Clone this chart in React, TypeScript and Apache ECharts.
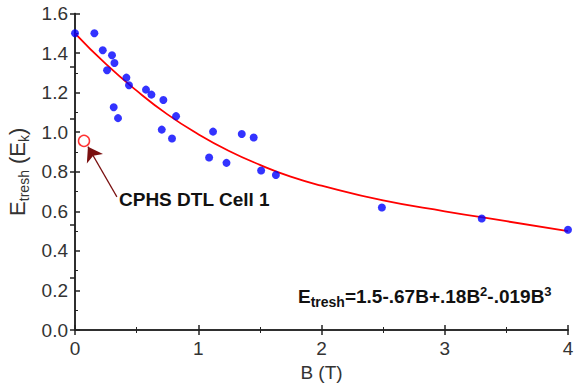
import React, { useEffect, useRef } from "react";
import * as echarts from "echarts";

// measured points (B in T, E in Ek)
const measuredB = [0, 0.157, 0.225, 0.30, 0.32, 0.26, 0.417, 0.438, 0.314, 0.349, 0.576, 0.62, 0.717, 0.82, 0.704, 0.787, 1.088, 1.12, 1.229, 1.353, 1.45, 1.51, 1.63, 2.49, 3.30, 4.0];
const measuredE = [1.5, 1.5, 1.414, 1.389, 1.35, 1.313, 1.276, 1.237, 1.126, 1.071, 1.215, 1.19, 1.163, 1.081, 1.013, 0.968, 0.872, 1.003, 0.845, 0.991, 0.973, 0.806, 0.784, 0.619, 0.564, 0.507];
// fitted curve
const fitB = [0, 0.25, 0.5, 0.75, 1, 1.25, 1.5, 1.75, 2, 2.5, 3, 3.5, 4];
const fitE = [1.5, 1.345, 1.21, 1.09, 0.99, 0.905, 0.835, 0.775, 0.73, 0.655, 0.6, 0.55, 0.5];
// CPHS DTL Cell 1 point and arrow
const cellB = [0.073];
const cellE = [0.956];
const arrowFrom = [0.34, 0.673];
const arrowTo = [0.105, 0.927];

const xMin = 0, xMax = 4, xInterval = 1;
const yMin = 0, yMax = 1.6, yInterval = 0.2;

const FONT = "'Liberation Sans', Arial, sans-serif";

export default function App() {
  const ref = useRef<HTMLDivElement>(null);
  useEffect(() => {
    if (!ref.current) return;
    const chart = echarts.init(ref.current, null, { renderer: "svg" });
    const axisColor = "#222";
    chart.setOption({
      animation: false,
      backgroundColor: "#fff",
      textStyle: { fontFamily: FONT },
      grid: { left: 75, right: 6, top: 13.5, bottom: 53, containLabel: false, outerBoundsMode: "none" },
      xAxis: [
        {
          type: "value", min: xMin, max: xMax, interval: xInterval, position: "bottom",
          name: "B (T)", nameLocation: "middle", nameGap: 31,
          nameTextStyle: { fontSize: 19, color: "#333", fontFamily: FONT },
          axisLine: { show: true, lineStyle: { color: axisColor, width: 1.5 } },
          axisTick: { show: true, inside: true, length: 5, lineStyle: { color: axisColor, width: 1.5 } },
          minorTick: { show: true, splitNumber: 2, length: 3, lineStyle: { color: axisColor, width: 1 } },
          axisLabel: { fontSize: 19, color: "#333", margin: 9, fontFamily: FONT },
          splitLine: { show: false },
        },
        {
          type: "value", min: xMin, max: xMax, interval: xInterval, position: "top",
          axisLine: { show: true, lineStyle: { color: axisColor, width: 1.5 } },
          axisTick: { show: true, inside: true, length: 5, lineStyle: { color: axisColor, width: 1.5 } },
          minorTick: { show: true, splitNumber: 2, length: 3, lineStyle: { color: axisColor, width: 1 } },
          axisLabel: { show: false },
          splitLine: { show: false },
        },
      ],
      yAxis: [
        {
          type: "value", min: yMin, max: yMax, interval: yInterval, position: "left",
          name: "{e|E}{s|tresh}{e| (E}{s|k}{e|)}", nameLocation: "middle", nameGap: 39,
          nameTextStyle: {
            color: "#333", fontFamily: FONT,
            rich: {
              e: { fontSize: 22, color: "#333", fontFamily: FONT, lineHeight: 24 },
              s: { fontSize: 14, color: "#333", fontFamily: FONT, padding: [12, 0, 0, 0], lineHeight: 16 },
            },
          },
          axisLine: { show: true, lineStyle: { color: axisColor, width: 1.5 } },
          axisTick: { show: true, inside: true, length: 5, lineStyle: { color: axisColor, width: 1.5 } },
          minorTick: { show: true, splitNumber: 2, length: 3, lineStyle: { color: axisColor, width: 1 } },
          axisLabel: { fontSize: 19, color: "#333", margin: 7, fontFamily: FONT, formatter: (v: number) => v.toFixed(1) },
          splitLine: { show: false },
        },
        {
          type: "value", min: 0, max: 6, interval: 1, position: "right",
          axisLine: { show: true, lineStyle: { color: axisColor, width: 1.5 } },
          axisTick: { show: true, inside: true, length: 5, lineStyle: { color: axisColor, width: 1.5 } },
          axisLabel: { show: false },
          splitLine: { show: false },
        },
      ],
      series: [
        {
          type: "line", name: "fit", smooth: true, showSymbol: false, symbol: "none",
          data: fitB.map((b, i) => [b, fitE[i]]),
          lineStyle: { color: "#ff0000", width: 1.8 },
          z: 2,
        },
        {
          type: "scatter", name: "data", symbol: "circle", symbolSize: 8,
          data: measuredB.map((b, i) => [b, measuredE[i]]),
          itemStyle: { color: "#0000ff" },
          z: 3,
        },
        {
          type: "scatter", name: "CPHS DTL Cell 1", symbol: "circle", symbolSize: 11,
          data: cellB.map((b, i) => [b, cellE[i]]),
          itemStyle: { color: "#ffffff", borderColor: "#ff0000", borderWidth: 1.5 },
          z: 4,
          markLine: {
            silent: true,
            symbol: ["none", "arrow"],
            symbolSize: 14,
            label: { show: false },
            lineStyle: { color: "#7a1010", width: 1.2, type: "solid" },
            itemStyle: { color: "#7a1010" },
            emphasis: { disabled: true },
            data: [[{ coord: arrowFrom }, { coord: arrowTo }]],
          },
        },
      ],
      graphic: [
        {
          type: "text", left: 119, top: 190,
          style: { text: "CPHS DTL Cell 1", fontSize: 19, fontWeight: "bold", fill: "#111", fontFamily: FONT },
        },
        {
          type: "text", left: 298, top: 283,
          style: {
            text: "{m|E}{s|tresh}{m|=1.5-.67B+.18B}{p|2}{m|-.019B}{p|3}",
            fontFamily: FONT,
            rich: {
              m: { fontSize: 19, fontWeight: "bold", fill: "#111", fontFamily: FONT, lineHeight: 22 },
              s: { fontSize: 14, fontWeight: "bold", fill: "#111", fontFamily: FONT, padding: [12, 0, 0, 0], lineHeight: 14 },
              p: { fontSize: 13, fontWeight: "bold", fill: "#111", fontFamily: FONT, padding: [0, 0, 10, 0], lineHeight: 14 },
            },
          },
        },
      ],
    });
    return () => chart.dispose();
  }, []);
  return <div ref={ref} style={{ width: 574, height: 383, position: "absolute", left: 0, top: 0 }} />;
}
